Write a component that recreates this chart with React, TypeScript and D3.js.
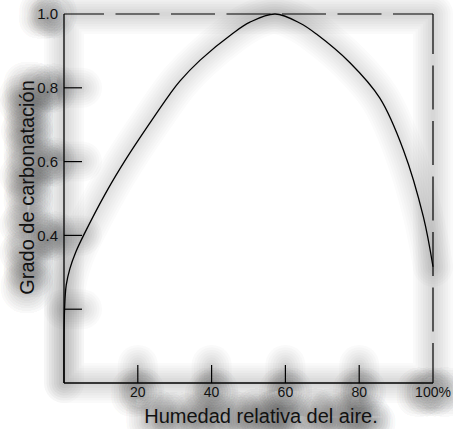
import React from "react";
import * as d3 from "d3";

const humidity = [0, 0, 0.15, 0.6, 1.6, 3.2, 5.3, 11.6, 17, 23.3, 28.7, 31.4, 36.9, 45.8, 50.4, 57.2, 64, 68.5, 77.5, 85.6, 92, 97.4, 100];
const carbonation = [0, 0.12, 0.2, 0.265, 0.31, 0.355, 0.4, 0.52, 0.61, 0.705, 0.783, 0.818, 0.875, 0.948, 0.978, 1.0, 0.975, 0.945, 0.868, 0.772, 0.631, 0.45, 0.315];
const xTicks = [20, 40, 60, 80, 100];
const xTickLabels = ["20", "40", "60", "80", "100%"];
const yTicks = [0.2, 0.4, 0.6, 0.8, 1.0];
const yTickLabels = ["", "0.4", "0.6", "0.8", "1.0"];

const W = 453, H = 429;
const left = 64, right = 433, top = 14, bottom = 383;
const font = "'Liberation Sans', Arial, Helvetica, sans-serif";

const x = d3.scaleLinear().domain([0, 100]).range([left, right]);
const y = d3.scaleLinear().domain([0, 1]).range([bottom, top]);
const pts = humidity.map((h, i) => [h, carbonation[i]] as [number, number]);
const curve = d3.line<[number, number]>().x(d => x(d[0])).y(d => y(d[1])).curve(d3.curveCatmullRom.alpha(0.5));

function Halo({ w, op }: { w: number; op: number }) {
  const c = "#404040";
  const s = { stroke: c, strokeWidth: w, strokeOpacity: op, strokeLinecap: "round" as const, strokeLinejoin: "round" as const };
  const t = { fill: c, fillOpacity: op, stroke: c, strokeWidth: w, strokeOpacity: op, strokeLinejoin: "round" as const };
  return (
    <g fontFamily={font}>
      <path d={`M${left},${top}L${left},${bottom}L${right},${bottom}L${right},${top}Z`} fill="none" {...s} />
      {xTicks.filter(t0 => t0 < 100).map(t0 => <line key={"hx" + t0} x1={x(t0)} x2={x(t0)} y1={bottom} y2={bottom - 18} {...s} />)}
      {yTicks.filter(t0 => t0 < 1).map(t0 => <line key={"hy" + t0} x1={left} x2={left + 18} y1={y(t0)} y2={y(t0)} {...s} />)}
      <path d={curve(pts) || ""} fill="none" {...s} strokeOpacity={op * 0.7} />
      {xTicks.map((t0, i) => <text key={"tx" + t0} x={x(t0)} y={397} fontSize={14} textAnchor="middle" {...t}>{xTickLabels[i]}</text>)}
      {yTicks.map((t0, i) => <text key={"ty" + t0} x={58} y={y(t0)} dy="0.35em" fontSize={15} textAnchor="end" {...t}>{yTickLabels[i]}</text>)}
      <text x={261} y={422.5} fontSize={20} textAnchor="middle" {...t}>Humedad relativa del aire.</text>
      <text transform="translate(34,187.5) rotate(-90)" fontSize={20} textAnchor="middle" {...t}>Grado de carbonatación</text>
    </g>
  );
}

export default function App() {
  const haloWidths = [40, 35, 30, 25, 20, 15, 10, 5];
  return (
    <svg width={W} height={H} style={{ position: "absolute", left: 0, top: 0 }}>
      <rect x={0} y={0} width={W} height={H} fill="#fff" />
      {haloWidths.map(w => <Halo key={w} w={w} op={0.028} />)}
      <g fontFamily={font} fill="#111">
        <line x1={left} y1={top} x2={left} y2={bottom} stroke="#000" strokeWidth={1.3} />
        <line x1={left} y1={bottom} x2={right} y2={bottom} stroke="#000" strokeWidth={1.3} />
        <line x1={left} y1={top} x2={right} y2={top} stroke="#000" strokeWidth={1.2} strokeDasharray="44 11.5" strokeDashoffset={4} />
        <line x1={right} y1={top} x2={right} y2={bottom} stroke="#000" strokeWidth={1.2} strokeDasharray="44 11.5" strokeDashoffset={4} />
        {xTicks.map((t, i) => (
          <g key={"x" + t}>
            {t < 100 && <line x1={x(t)} x2={x(t)} y1={bottom} y2={bottom - 18} stroke="#000" strokeWidth={1.2} />}
            <text x={x(t)} y={397} fontSize={14} textAnchor="middle">{xTickLabels[i]}</text>
          </g>
        ))}
        {yTicks.map((t, i) => (
          <g key={"y" + t}>
            {t < 1 && <line x1={left} x2={left + 18} y1={y(t)} y2={y(t)} stroke="#000" strokeWidth={1.2} />}
            <text x={58} y={y(t)} dy="0.35em" fontSize={15} textAnchor="end">{yTickLabels[i]}</text>
          </g>
        ))}
        <path d={curve(pts) || ""} fill="none" stroke="#000" strokeWidth={1.3} />
        <text x={261} y={422.5} fontSize={20} textAnchor="middle">Humedad relativa del aire.</text>
        <text transform="translate(34,187.5) rotate(-90)" fontSize={20} textAnchor="middle">Grado de carbonatación</text>
      </g>
    </svg>
  );
}
